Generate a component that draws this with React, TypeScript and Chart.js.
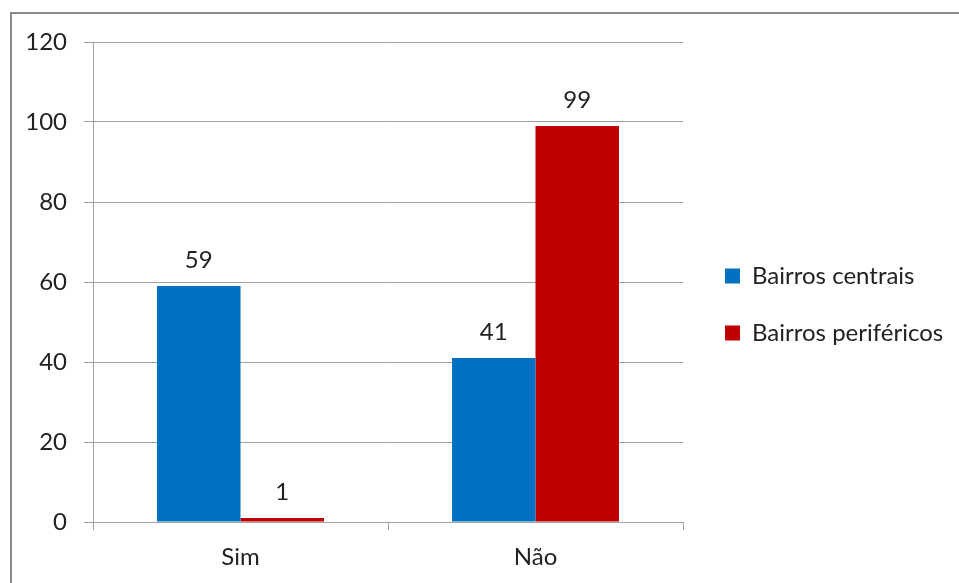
import React, { useEffect, useRef } from "react";
import { Chart, registerables } from "chart.js";

Chart.register(...registerables);

// Categories, series and axis settings
const categories = ["Sim", "Não"];
const seriesNames = ["Bairros centrais", "Bairros periféricos"];
const centrais = [59, 41];
const perifericos = [1, 99];
const seriesColors = ["#0070C0", "#C00000"];
const yMin = 0;
const yMax = 120;
const yStep = 20;

const FONT = "Lato, 'Noto Sans', sans-serif";
const TEXT = "#222222";
const GRID = "#a0a0a0";

// Writes each bar's value above it, using the bar element's position
const valueLabels = {
  id: "valueLabels",
  afterDatasetsDraw(chart: Chart) {
    const ctx = chart.ctx;
    ctx.save();
    ctx.font = `24px ${FONT}`;
    ctx.fillStyle = TEXT;
    ctx.textAlign = "center";
    ctx.textBaseline = "middle";
    chart.data.datasets.forEach((ds, di) => {
      const meta = chart.getDatasetMeta(di);
      meta.data.forEach((el: any, i) => {
        const v = ds.data[i] as number;
        ctx.fillText(String(v), el.x, el.y - 26);
      });
    });
    ctx.restore();
  },
};

export default function App() {
  const ref = useRef<HTMLCanvasElement | null>(null);

  useEffect(() => {
    if (!ref.current) return;
    const chart = new Chart(ref.current, {
      type: "bar",
      data: {
        labels: categories,
        datasets: [
          {
            label: seriesNames[0],
            data: centrais,
            backgroundColor: seriesColors[0],
            borderWidth: 0,
            categoryPercentage: 0.566,
            barPercentage: 1,
          },
          {
            label: seriesNames[1],
            data: perifericos,
            backgroundColor: seriesColors[1],
            borderWidth: 0,
            categoryPercentage: 0.566,
            barPercentage: 1,
          },
        ],
      },
      options: {
        responsive: false,
        animation: false,
        layout: { padding: { left: 0, top: 42, right: 6, bottom: 16 } },
        plugins: {
          tooltip: { enabled: false },
          legend: {
            position: "right",
            align: "center",
            maxWidth: 261,
            labels: {
              boxWidth: 15,
              boxHeight: 15,
              padding: 33,
              color: TEXT,
              font: { family: FONT, size: 24 },
            },
          },
        },
        scales: {
          x: {
            grid: {
              display: true,
              drawOnChartArea: false,
              drawTicks: true,
              tickLength: 8,
              color: GRID,
              offset: true,
            },
            border: { display: true, color: GRID, width: 1 },
            ticks: {
              color: TEXT,
              font: { family: FONT, size: 24 },
              padding: 13,
            },
            afterFit(scale: any) {
              scale.height = 45;
            },
          },
          y: {
            min: yMin,
            max: yMax,
            ticks: {
              stepSize: yStep,
              color: TEXT,
              font: { family: FONT, size: 24 },
              padding: 17,
            },
            grid: { color: GRID, tickLength: 9, drawTicks: true },
            border: { display: true, color: GRID, width: 1 },
            afterFit(scale: any) {
              scale.width = 93;
            },
          },
          gap: {
            type: "linear",
            position: "right",
            display: true,
            grid: { display: false, drawTicks: false },
            border: { display: false },
            ticks: { display: false },
            afterFit(scale: any) {
              scale.width = 9;
            },
          },
        },
      },
      plugins: [valueLabels],
    });
    return () => chart.destroy();
  }, []);

  return (
    <div
      style={{
        position: "fixed",
        left: 0,
        top: 0,
        width: 959,
        height: 583,
        overflow: "hidden",
        background: "#ffffff",
      }}
    >
      <canvas
        ref={ref}
        width={959}
        height={583}
        style={{ position: "absolute", left: 0, top: 0, width: 959, height: 583 }}
      />
      <div
        style={{
          position: "absolute",
          left: 10,
          top: 12,
          width: 1000,
          height: 700,
          border: "2px solid #8a8a8a",
          boxSizing: "border-box",
          pointerEvents: "none",
        }}
      />
    </div>
  );
}
